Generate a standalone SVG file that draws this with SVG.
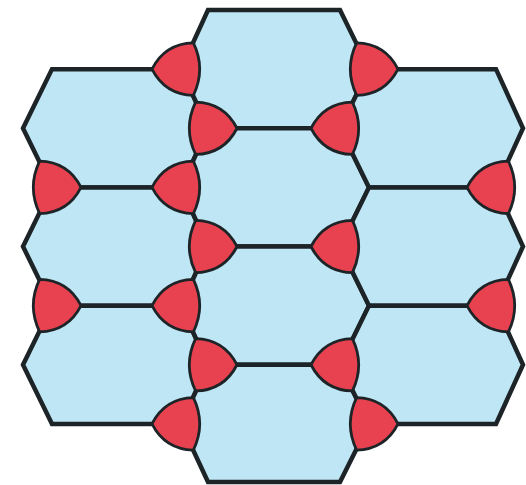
<svg xmlns="http://www.w3.org/2000/svg" width="526" height="485" viewBox="0 0 526 485">
<style>
.hex{fill:#bfe6f4;stroke:#1d2428;stroke-width:4.5;stroke-linejoin:miter}
.tri{fill:#e8414f;stroke:#1d2428;stroke-width:2.8;stroke-linejoin:round}
</style>
<defs>
<path id="tl" d="M-29,0 Q-16,-25.5 12.4,-26.2 Q25,0 12.4,26.2 Q-16,25.5 -29,0Z"/>
<path id="tr" d="M29,0 Q16,-25.5 -12.4,-26.2 Q-25,0 -12.4,26.2 Q16,25.5 29,0Z"/>
</defs>
<rect width="526" height="485" fill="#ffffff"/>
<g id="hexagons" class="hex">
<polygon id="L1" points="23,128.25 52,69.13 181,69.13 208,128.25 181,187.38 52,187.38"/>
<polygon id="L2" points="23,246.5 52,187.38 181,187.38 208,246.5 181,305.63 52,305.63"/>
<polygon id="L3" points="23,364.75 52,305.63 181,305.63 208,364.75 181,423.88 52,423.88"/>
<polygon id="M1" points="181,69.13 208,10 340,10 369,69.13 340,128.25 208,128.25"/>
<polygon id="M2" points="181,187.38 208,128.25 340,128.25 369,187.38 340,246.5 208,246.5"/>
<polygon id="M3" points="181,305.63 208,246.5 340,246.5 369,305.63 340,364.75 208,364.75"/>
<polygon id="M4" points="181,423.88 208,364.75 340,364.75 369,423.88 340,482 208,482"/>
<polygon id="R1" points="340,128.25 369,69.13 496,69.13 523,128.25 496,187.38 369,187.38"/>
<polygon id="R2" points="340,246.5 369,187.38 496,187.38 523,246.5 496,305.63 369,305.63"/>
<polygon id="R3" points="340,364.75 369,305.63 496,305.63 523,364.75 496,423.88 369,423.88"/>
</g>
<g id="triangles" class="tri">
<use href="#tl" transform="translate(181,69.13)"/>
<use href="#tl" transform="translate(181,187.38)"/>
<use href="#tl" transform="translate(181,305.63)"/>
<use href="#tl" transform="translate(181,423.88)"/>
<use href="#tl" transform="translate(340,128.25)"/>
<use href="#tl" transform="translate(340,246.5)"/>
<use href="#tl" transform="translate(340,364.75)"/>
<use href="#tl" transform="translate(496,187.38)"/>
<use href="#tl" transform="translate(496,305.63)"/>
<use href="#tr" transform="translate(208,128.25)"/>
<use href="#tr" transform="translate(208,246.5)"/>
<use href="#tr" transform="translate(208,364.75)"/>
<use href="#tr" transform="translate(369,69.13)"/>
<use href="#tr" transform="translate(369,423.88)"/>
<use href="#tr" transform="translate(52,187.38)"/>
<use href="#tr" transform="translate(52,305.63)"/>
</g>
</svg>
